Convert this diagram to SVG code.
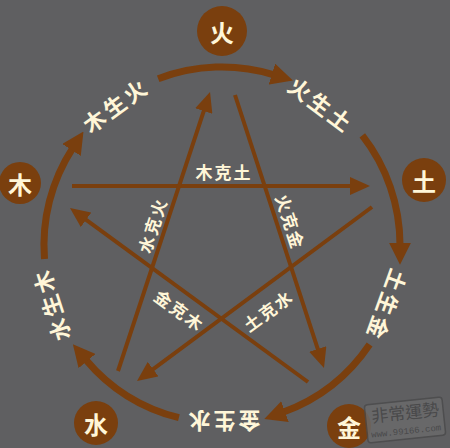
<svg xmlns="http://www.w3.org/2000/svg" width="450" height="448" viewBox="0 0 450 448">
<defs>
<style>
.bg{fill:#5f5f61}
.ring{fill:none;stroke:#7a3f0e;stroke-width:7;stroke-linecap:butt}
.star{fill:none;stroke:#7a3f0e;stroke-width:4}
.node{fill:#7a3f0e}
.nt{font-family:"Noto Sans CJK TC","Noto Sans CJK SC",sans-serif;font-weight:bold;font-size:24px;fill:#fff6d8;text-anchor:middle;dominant-baseline:central}
.rl{font-family:"Noto Sans CJK TC","Noto Sans CJK SC",sans-serif;font-weight:bold;font-size:22px;fill:#fff6d8;text-anchor:middle;dominant-baseline:central;letter-spacing:3px}
.sl{font-family:"Noto Sans CJK TC","Noto Sans CJK SC",sans-serif;font-weight:bold;font-size:17px;fill:#fff6d8;text-anchor:middle;dominant-baseline:central;letter-spacing:2px}
.wm{font-family:"Noto Sans CJK TC","Noto Sans CJK SC",sans-serif;fill:#454546;text-anchor:middle}
</style>
<marker id="ah" markerUnits="userSpaceOnUse" markerWidth="22" markerHeight="22" viewBox="0 0 20 20" refX="2" refY="10" orient="auto">
<path d="M0,0 L20,10 L0,20 z" fill="#7a3f0e"/>
</marker>
<marker id="as" markerUnits="userSpaceOnUse" markerWidth="20" markerHeight="18" viewBox="0 0 20 18" refX="2" refY="9" orient="auto">
<path d="M0,0 L20,9 L0,18 z" fill="#7a3f0e"/>
</marker>
</defs>
<rect class="bg" x="0" y="0" width="450" height="448"/>

<g id="connectors">
<g id="sheng">
<path class="ring" d="M158.2,78.8 A178,178 0 0 1 274.0,74.8" marker-end="url(#ah)"/>
<path class="ring" d="M362.3,135.4 A178,178 0 0 1 400,245" marker-end="url(#ah)"/>
<path class="ring" d="M369.6,344.5 A178,178 0 0 1 282.9,412.3" marker-end="url(#ah)"/>
<path class="ring" d="M178.9,417.7 A178,178 0 0 1 85.6,359.4" marker-end="url(#ah)"/>
<path class="ring" d="M44.5,259.0 A178,178 0 0 1 72.7,148.1" marker-end="url(#ah)"/>
</g>
<g id="ke">
<path class="star" d="M72,186 L352,186" marker-end="url(#as)"/>
<path class="star" d="M235,95 L318.4,350.9" marker-end="url(#as)"/>
<path class="star" d="M308,382 L84.5,218.6" marker-end="url(#as)"/>
<path class="star" d="M372,207 L151.5,370.3" marker-end="url(#as)"/>
<path class="star" d="M118,371 L204.4,109.1" marker-end="url(#as)"/>
</g>
</g>

<g id="labels">
<text class="rl" transform="translate(322,104) rotate(37)">火生土</text>
<text class="rl" transform="translate(388,306) rotate(110)">土生金</text>
<text class="rl" transform="translate(223,423) rotate(180)">金生水</text>
<text class="rl" transform="translate(50,305) rotate(-108)">水生木</text>
<text class="rl" transform="translate(115,104) rotate(-36)">木生火</text>
<text class="sl" transform="translate(224,171)">木克土</text>
<text class="sl" transform="translate(152,225) rotate(-72)">水克火</text>
<text class="sl" transform="translate(291,222) rotate(72)">火克金</text>
<text class="sl" transform="translate(180,310) rotate(36)">金克木</text>
<text class="sl" transform="translate(268,310) rotate(-36)">土克水</text>
</g>

<g id="node-fire"><circle class="node" cx="222" cy="31" r="25"/><text class="nt" x="222" y="31">火</text></g>
<g id="node-earth"><circle class="node" cx="424" cy="180" r="22"/><text class="nt" x="424" y="180">土</text></g>
<g id="node-metal"><circle class="node" cx="349" cy="426" r="22"/><text class="nt" x="349" y="426">金</text></g>
<g id="node-water"><circle class="node" cx="96" cy="423" r="22"/><text class="nt" x="96" y="423">水</text></g>
<g id="node-wood"><circle class="node" cx="20" cy="183" r="21"/><text class="nt" x="20" y="183">木</text></g>

<g id="watermark" transform="rotate(-6 405 420)" opacity="0.8">
<rect x="366" y="401" width="78" height="38" rx="3" fill="#6b6b6c" stroke="#4a4a4b" stroke-width="1.5"/>
<text class="wm" x="406" y="419" font-size="17">非常運勢</text>
<text x="405" y="434" font-size="9" font-family="'Liberation Mono',monospace" fill="#454546" text-anchor="middle">www.99166.com</text>
</g>
</svg>
